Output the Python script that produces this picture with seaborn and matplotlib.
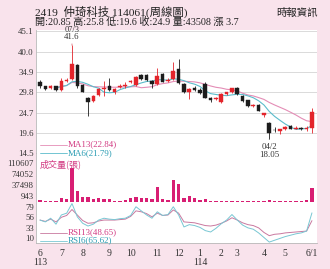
import matplotlib
matplotlib.use("Agg")
import matplotlib.pyplot as plt
import seaborn as sns
import numpy as np
import pandas as pd

# ---------------- data ----------------
opens  = [32.5,31.3,30.8,31.3,30.3,32.6,33.1,36.7,31.6,28.5,27.7,29.1,30.6,31.5,30.0,31.2,31.5,32.4,31.7,34.1,
          34.1,32.7,31.9,34.4,32.6,33.1,35.7,31.9,30.0,30.9,30.5,31.9,28.5,28.1,27.3,29.4,29.8,30.8,29.0,27.9,
          26.3,26.6,24.1,22.1,20.4,20.1,20.6,21.3,20.7,20.8,20.5,20.85]
highs  = [32.8,31.5,31.6,31.5,33.3,33.3,41.6,36.9,31.8,28.7,29.2,30.9,32.6,33.4,31.0,31.9,32.3,33.0,33.8,34.3,
          34.3,33.0,36.0,34.6,33.3,37.4,38.2,32.1,30.8,31.4,30.8,32.5,28.7,28.7,29.6,30.0,31.0,31.1,29.1,28.0,
          26.8,26.8,24.7,22.3,21.0,20.7,21.4,21.5,21.3,21.0,21.3,25.8]
lows   = [30.9,30.5,30.6,30.1,30.1,32.3,32.8,30.8,29.8,23.9,27.4,29.0,29.0,30.1,29.3,30.9,30.8,32.2,31.5,32.9,
          32.6,31.0,31.7,32.3,32.4,32.9,32.0,29.6,28.1,30.2,29.4,28.3,27.3,27.9,27.1,29.2,29.6,29.2,27.5,26.2,
          26.1,25.0,23.5,18.05,19.8,19.3,20.4,20.5,20.5,20.3,20.1,19.6]
closes = [31.3,30.7,31.4,30.3,32.6,32.8,36.9,31.3,30.0,27.3,29.0,30.6,30.8,30.5,30.6,31.4,31.6,32.7,33.6,33.1,
          32.8,31.9,33.8,32.5,33.0,35.2,32.1,29.8,30.6,30.4,29.6,28.5,28.0,28.5,29.4,29.8,30.8,29.4,27.7,26.4,
          26.6,25.2,24.5,19.6,20.3,20.5,21.0,20.7,20.8,20.5,20.85,24.9]
volumes = [5600,2300,3000,3600,11000,10000,110607,36000,14500,14500,7900,11000,7500,10000,3500,3500,4500,11000,16500,13000,
           11000,8000,47000,8000,4500,70000,57000,11000,18700,11000,5600,9000,3000,2000,2500,2500,2500,3000,2500,2500,
           2000,1500,3000,5000,2500,2000,2000,1500,943,1500,4000,43508]
rsi6  = [50,46,54,41,61,65,86,57,43,37,41,50,54,52,51,53,54,60,79,70,61,54,68,60,62,79,61,35,40,38,
         34,27,24,32,42,50,62,50,39,33,30,22,12,2,6,10,14,17,20,22,26,65.62]
rsi13 = [50,47,52,46,56,60,73,61,49,43,44,48,50,50,50,51,52,58,70,68,64,57,65,60,61,72,65,46,45,44,
         41,38,37,39,43,48,55,50,44,40,38,33,23,16,19,20,22,23,24,25,26,48.65]
price_ticks = [45.1, 40.0, 34.9, 29.8, 24.7, 19.6, 14.5]
vol_ticks = [943, 37498, 74052, 110607]
rsi_ticks = [10, 33, 56, 79]
month_pos = [0, 4, 8, 13, 17, 22, 26, 30, 34, 37, 42, 46, 51]
month_labels = ["6\n113", "7", "8", "9", "10", "11", "12", "1\n114", "2", "3", "4", "5", "6/1"]

df = pd.DataFrame({"i": np.arange(len(closes)), "open": opens, "high": highs, "low": lows,
                   "close": closes, "vol": volumes, "rsi6": rsi6, "rsi13": rsi13})
df["ma6"] = df["close"].rolling(6, min_periods=1).mean()
df["ma13"] = df["close"].rolling(13, min_periods=1).mean()

# ---------------- style ----------------
BG = "#f9e3ec"
RED = "#e3242b"
BLK = "#1c1c1c"
PINK_LINE = "#e48db6"
TEAL_LINE = "#5bbccb"
VOLC = "#d81e73"
SER = ["Liberation Serif", "Noto Sans CJK TC"]
CJK = ["Noto Sans CJK TC", "DejaVu Sans"]
sns.set_style("white")
plt.rcParams["font.family"] = SER

W, H = 330, 269
fig = plt.figure(figsize=(W / 100, H / 100), dpi=100)
fig.patch.set_facecolor(BG)

def box(top, bottom, left=36, right=317):
    return [left / W, 1 - bottom / H, (right - left) / W, (bottom - top) / H]

ax_p = fig.add_axes(box(30, 153.3))
ax_v = fig.add_axes(box(153.3, 201.7))
ax_r = fig.add_axes(box(201.7, 243))
ax_p.set_zorder(5)
ax_v.set_zorder(2)
ax_r.set_zorder(3)
XL = (-0.75, 51.95)

for ax in (ax_p, ax_v, ax_r):
    ax.set_facecolor("white")
    for s in ax.spines.values():
        s.set_visible(False)
    ax.spines["left"].set_visible(True)
    ax.spines["left"].set_color("#b8b8b8")
    ax.spines["left"].set_linewidth(0.6)
    ax.tick_params(axis="y", length=0, pad=1.5, labelsize=6.3, colors="#333333")

# ---------------- price ----------------
up = df["close"] >= df["open"]
cols = np.where(up, RED, BLK)
ax_p.vlines(df["i"], df["low"], df["high"], colors=cols, linewidth=0.6, zorder=3)
body_h = (df["close"] - df["open"]).abs().clip(lower=0.15)
body_b = df[["open", "close"]].min(axis=1)
ax_p.bar(df["i"], body_h, bottom=body_b, width=0.68, color=cols, edgecolor=cols, linewidth=0.3, zorder=4)
ma = df[df["i"] >= 3]
sns.lineplot(data=ma, x="i", y="ma13", ax=ax_p, color=PINK_LINE, linewidth=0.8, zorder=2)
sns.lineplot(data=ma, x="i", y="ma6", ax=ax_p, color=TEAL_LINE, linewidth=0.8, zorder=2)
ax_p.set_ylim(14.5, 45.45)
ax_p.set_xlim(*XL)
ax_p.set_yticks(price_ticks)
ax_p.set_yticklabels([f"{t:.1f}" for t in price_ticks])
ax_p.grid(axis="y", color="#d4d4d4", linewidth=0.6)
ax_p.set_xticks([])
ax_p.set_xlabel("")
ax_p.set_ylabel("")

hi_i = int(np.argmax(highs))
lo_i = int(np.argmin(lows))
ax_p.annotate(f"{highs[hi_i]:.1f}", xy=(hi_i, highs[hi_i]), xytext=(0, 6.3), textcoords="offset points",
              ha="center", va="center", fontsize=6.3, color="#333333",
              arrowprops=dict(arrowstyle="-", color="#d9707a", lw=0.6, shrinkA=2, shrinkB=0))
ax_p.annotate("07/3", xy=(hi_i, highs[hi_i]), xytext=(0, 11.0), textcoords="offset points",
              ha="center", va="center", fontsize=6.0, color="#333333", annotation_clip=False)
ax_p.annotate("04/2", xy=(lo_i, lows[lo_i]), xytext=(0, -5.4), textcoords="offset points",
              ha="center", va="center", fontsize=6.3, color="#333333",
              arrowprops=dict(arrowstyle="-", color="#777777", lw=0.6, shrinkA=2, shrinkB=0))
ax_p.annotate(f"{lows[lo_i]:.2f}", xy=(lo_i, lows[lo_i]), xytext=(0, -11.1), textcoords="offset points",
              ha="center", va="center", fontsize=6.3, color="#333333", annotation_clip=False, zorder=10,
              bbox=dict(boxstyle="square,pad=0.05", fc="white", ec="none"))

ma13_last = 22.84
ma6_last = 21.79
ax_p.plot([0.014, 0.11], [0.071, 0.071], transform=ax_p.transAxes, color=PINK_LINE, lw=0.6)
ax_p.text(0.114, 0.071, f"MA13({ma13_last:.2f})", transform=ax_p.transAxes, fontsize=6.5,
          color="#d23a82", va="center", ha="left")
ax_p.plot([0.014, 0.11], [0.004, 0.004], transform=ax_p.transAxes, color=TEAL_LINE, lw=0.6, clip_on=False)
ax_p.text(0.114, 0.004, f"MA6({ma6_last:.2f})", transform=ax_p.transAxes, fontsize=6.5,
          color="#2b9db3", va="center", ha="left", zorder=9, clip_on=False)

# ---------------- volume ----------------
sns.barplot(data=df, x="i", y="vol", ax=ax_v, native_scale=True, color=VOLC, width=0.6,
            saturation=1, edgecolor="none")
ax_v.set_xlim(*XL)
ax_v.set_ylim(0, 158800)
ax_v.set_yticks(vol_ticks)
ax_v.set_yticklabels([str(t) for t in vol_ticks])
for t in ax_v.get_yticklabels():
    t.set_va("bottom")
ax_v.set_xticks([])
ax_v.set_xlabel("")
ax_v.set_ylabel("")
ax_v.text(0.014, 0.78, "成交量(張)", transform=ax_v.transAxes, fontsize=6.5, color="#d23a82",
          va="center", ha="left", family=CJK)

# ---------------- RSI ----------------
sns.lineplot(data=df, x="i", y="rsi13", ax=ax_r, color="#c9789f", linewidth=0.7)
sns.lineplot(data=df, x="i", y="rsi6", ax=ax_r, color="#79c7d3", linewidth=0.7)
ax_r.set_xlim(*XL)
ax_r.set_ylim(0, 90)
ax_r.set_yticks(rsi_ticks)
ax_r.set_yticklabels([str(t) for t in rsi_ticks])
ax_r.set_xticks(month_pos)
ax_r.set_xticklabels(month_labels, fontsize=7, color="#333333", linespacing=1.0)
ax_r.spines["bottom"].set_visible(True)
ax_r.spines["bottom"].set_color("#b8b8b8")
ax_r.spines["bottom"].set_linewidth(0.6)
ax_r.tick_params(axis="x", length=2, width=0.5, color="#999999", pad=2)
ax_r.set_xlabel("")
ax_r.set_ylabel("")
ax_r.plot([0.014, 0.11], [0.254, 0.254], transform=ax_r.transAxes, color="#c9789f", lw=0.6)
ax_r.text(0.114, 0.254, f"RSI13({rsi13[-1]:.2f})", transform=ax_r.transAxes, fontsize=6.5,
          color="#d23a82", va="center", ha="left")
ax_r.plot([0.014, 0.11], [0.06, 0.06], transform=ax_r.transAxes, color="#79c7d3", lw=0.6)
ax_r.text(0.114, 0.06, f"RSI6({rsi6[-1]:.2f})", transform=ax_r.transAxes, fontsize=6.5,
          color="#2b9db3", va="center", ha="left")

# ---------------- header ----------------
fig.text(35 / W, 1 - 11.5 / H, "2419  仲琦科技 114061(周線圖)", fontsize=8.2, color="#222222",
         va="center", ha="left")
fig.text(318 / W, 1 - 13 / H, "時報資訊", fontsize=7.5, color="#222222", va="center", ha="right", family=CJK)
fig.text(35 / W, 1 - 22 / H, "開:20.85 高:25.8 低:19.6 收:24.9 量:43508 漲 3.7", fontsize=7.3,
         color="#222222", va="center", ha="left")

fig.savefig("out.png", dpi=100, facecolor=BG)
